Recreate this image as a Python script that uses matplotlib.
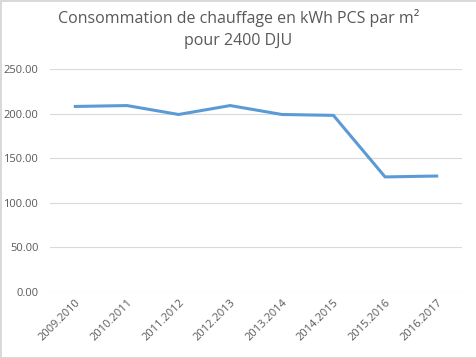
import matplotlib.pyplot as plt
import numpy as np

saisons = ['2009.2010', '2010.2011', '2011.2012', '2012.2013',
           '2013.2014', '2014.2015', '2015.2016', '2016.2017']
conso = [208, 209, 199, 209, 199, 198, 129, 130]
yticks = [0, 50, 100, 150, 200, 250]

plt.rcParams['font.family'] = ['Open Sans', 'DejaVu Sans']

fig = plt.figure(figsize=(4.77, 3.58), dpi=100)
fig.patch.set_edgecolor('#d9d9d9')
fig.patch.set_linewidth(1)
ax = fig.add_axes([0.1038, 0.1844, 0.8658, 0.6229])

x = np.arange(len(saisons))
ax.plot(x, conso, color='#5b9bd5', lw=2.2, solid_joinstyle='round')

ax.set_xlim(-0.5, len(saisons) - 0.5)
ax.set_ylim(0, 250)
ax.set_yticks(yticks)
ax.set_yticklabels(['%.2f' % v for v in yticks], fontsize=8, color='#595959')
ax.set_xticks(x)
ax.set_xticklabels(saisons, rotation=45, ha='right', rotation_mode='anchor',
                   fontsize=8, color='#595959')
ax.tick_params(axis='y', length=0, pad=8)
ax.tick_params(axis='x', length=0, pad=4)
ax.grid(axis='y', color='#d9d9d9', lw=0.8)
ax.set_axisbelow(True)
for s in ax.spines.values():
    s.set_visible(False)

fig.text(0.5, 0.975, 'Consommation de chauffage en kWh PCS par m²\npour 2400 DJU',
         ha='center', va='top', fontsize=11.5, color='#595959', linespacing=1.5)

fig.savefig('out.png', dpi=100, edgecolor=fig.get_edgecolor())
